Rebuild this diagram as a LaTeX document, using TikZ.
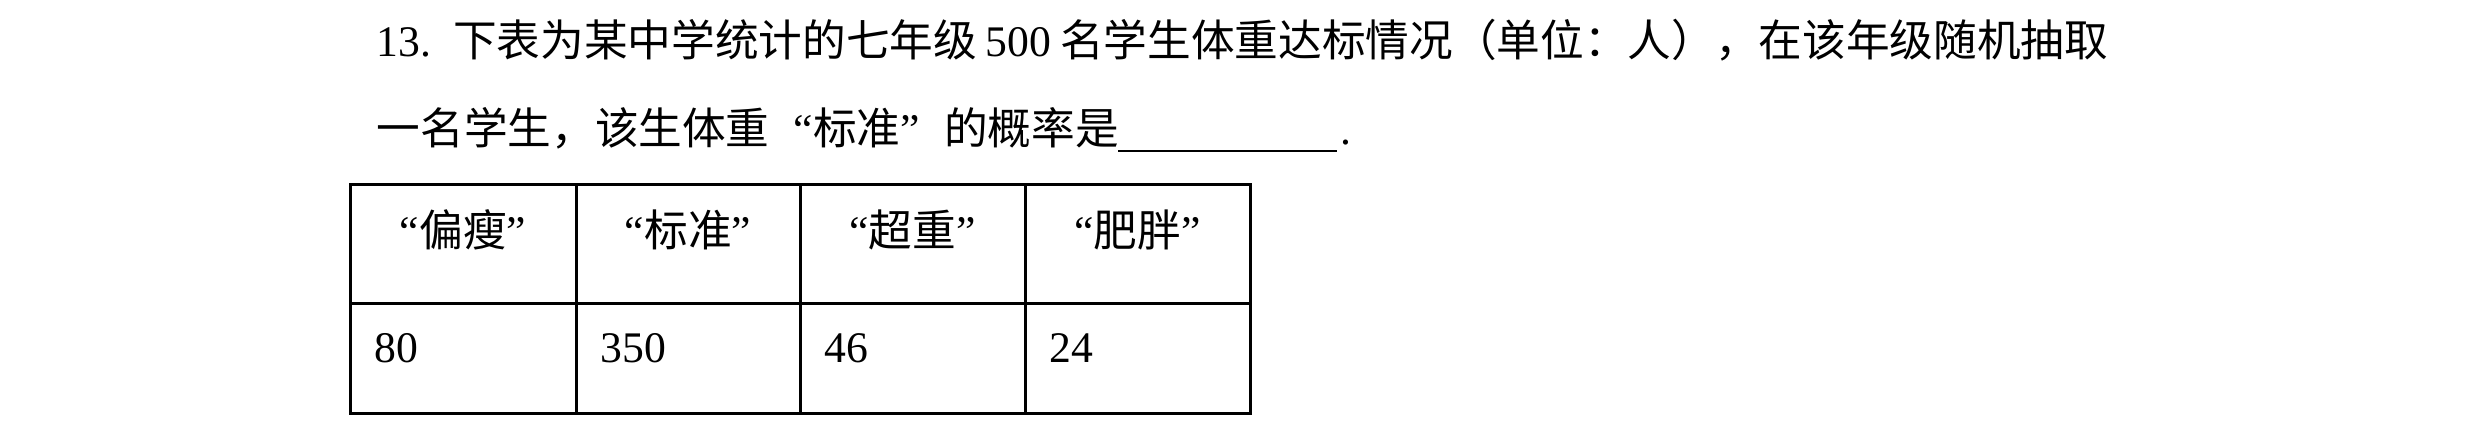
\documentclass[tikz,border=0pt]{standalone}
\usepackage{fontspec}
\setmainfont{Liberation Serif}
\newfontfamily\cjk{Noto Sans CJK SC}
\newcommand{\qop}{\makebox[1em][r]{“}}
\newcommand{\qcl}{\makebox[1em][l]{”}}
\tikzset{
  txt/.style={anchor=base west,inner sep=0pt,font=\fontsize{13.1pt}{15pt}\selectfont},
  hd/.style={anchor=base,inner sep=0pt,font=\fontsize{13.1pt}{15pt}\selectfont},
  rule/.style={line width=0.9pt,line cap=rect},
  blank/.style={line width=0.6pt}
}
\begin{document}
\begin{tikzpicture}[x=0.3pt,y=-0.3pt]
\useasboundingbox (0,0) rectangle (2480,435);
% question text
\node[txt] (l1) at (376,57) {13.\hspace{0.5em}{\cjk 下表为某中学统计的七年级}\hspace{0.2em}500\hspace{0.2em}{\cjk 名学生体重达标情况（单位：人），在该年级随机抽取}};
\node[txt] (l2) at (376,145) {{\cjk 一名学生，该生体重}\qop{\cjk 标准}\qcl{\cjk 的概率是}};
\coordinate (u1) at (1118,151);
\coordinate (u2) at (1337,151);
\draw[blank] (u1) -- (u2);
\node[txt] (dot) at (1340,145) {.};
% table
\coordinate (tl) at (350,185);
\coordinate (br) at (1250,414);
\draw[rule] (tl) rectangle (br);
\coordinate (ml) at (350,304);
\coordinate (mr) at (1250,304);
\draw[rule] (ml) -- (mr);
\foreach \x in {576,800,1025}{
  \draw[rule] (\x,185) -- (\x,414);
}
% headers
\node[hd] (h1) at (463,247) {\qop{\cjk 偏瘦}\qcl};
\node[hd] (h2) at (688,247) {\qop{\cjk 标准}\qcl};
\node[hd] (h3) at (912.5,247) {\qop{\cjk 超重}\qcl};
\node[hd] (h4) at (1137.5,247) {\qop{\cjk 肥胖}\qcl};
% data
\node[txt] (d1) at (374,363) {80};
\node[txt] (d2) at (600,363) {350};
\node[txt] (d3) at (824,363) {46};
\node[txt] (d4) at (1049,363) {24};
\end{tikzpicture}
\end{document}
